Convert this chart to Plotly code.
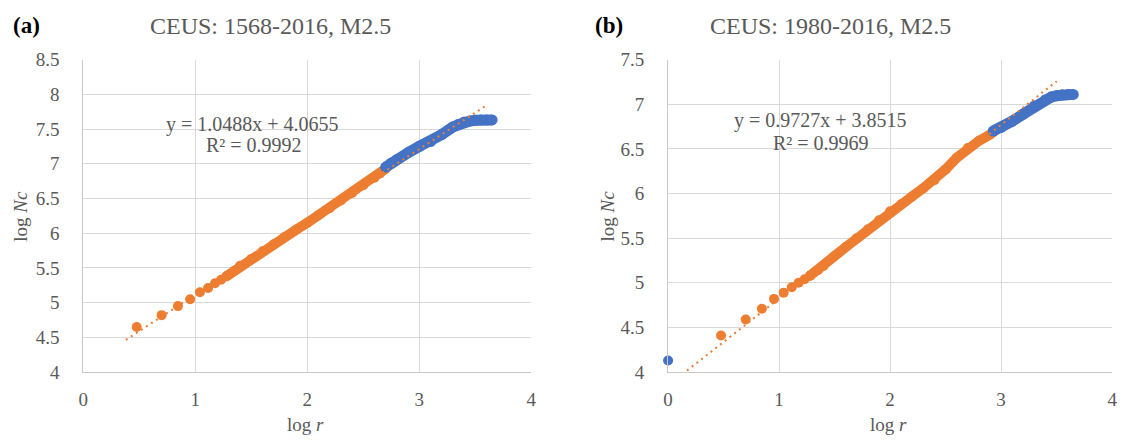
import plotly.graph_objects as go

# ---------------- panel (a): CEUS 1568-2016, M2.5 ----------------
a_dots_x = [0.477, 0.699, 0.845, 0.954, 1.041, 1.114, 1.176, 1.230, 1.279]
a_dots_y = [4.65, 4.82, 4.95, 5.05, 5.15, 5.21, 5.28, 5.33, 5.38]
a_orange_x = [1.279, 1.35, 1.40, 1.50, 1.60, 1.70, 1.80, 1.90, 2.00, 2.10, 2.20,
              2.30, 2.40, 2.50, 2.60, 2.65, 2.70]
a_orange_y = [5.38, 5.46, 5.53, 5.63, 5.74, 5.84, 5.95, 6.05, 6.15, 6.26, 6.36,
              6.47, 6.58, 6.69, 6.80, 6.86, 6.93]
a_blue_x = [2.70, 2.75, 2.80, 2.90, 3.00, 3.10, 3.20, 3.30, 3.35, 3.40, 3.45,
            3.50, 3.55, 3.60, 3.65]
a_blue_y = [6.95, 7.01, 7.06, 7.16, 7.25, 7.32, 7.42, 7.53, 7.57, 7.60, 7.615,
            7.625, 7.63, 7.63, 7.63]
a_fit = (1.0488, 4.0655)
a_fit_x = [0.38, 3.60]
a_eq = ["y = 1.0488x + 4.0655", "R² = 0.9992"]

# ---------------- panel (b): CEUS 1980-2016, M2.5 ----------------
b_first_x = [0.0]
b_first_y = [4.13]
b_dots_x = [0.477, 0.699, 0.845, 0.954, 1.041, 1.114, 1.176, 1.230, 1.279]
b_dots_y = [4.41, 4.59, 4.71, 4.82, 4.89, 4.95, 5.00, 5.04, 5.08]
b_orange_x = [1.279, 1.35, 1.40, 1.50, 1.60, 1.70, 1.80, 1.90, 2.00, 2.10, 2.20,
              2.30, 2.40, 2.50, 2.60, 2.70, 2.80, 2.90, 2.93]
b_orange_y = [5.08, 5.14, 5.19, 5.30, 5.40, 5.50, 5.60, 5.70, 5.80, 5.88, 5.97,
              6.06, 6.15, 6.27, 6.40, 6.51, 6.59, 6.66, 6.69]
b_blue_x = [2.93, 3.00, 3.10, 3.20, 3.30, 3.40, 3.45, 3.50, 3.55, 3.60, 3.65]
b_blue_y = [6.70, 6.74, 6.81, 6.89, 6.98, 7.05, 7.08, 7.095, 7.105, 7.11, 7.11]
b_fit = (0.9727, 3.8515)
b_fit_x = [0.0, 3.50]
b_eq = ["y = 0.9727x + 3.8515", "R² = 0.9969"]

x_ticks = [0, 1, 2, 3, 4]

ORANGE = "#ED7D31"
BLUE = "#4472C4"
GRID = "#D9D9D9"
TXT = "#595959"
FONT = "Liberation Serif"
MS = 10

W, H = 1132, 446
fig = go.Figure()


def add_panel(fig, xa, ya, first_x, first_y, dots_x, dots_y, ox, oy, bx, by, fit, fit_x):
    if first_x:
        fig.add_trace(go.Scatter(x=first_x, y=first_y, mode="markers", xaxis=xa, yaxis=ya,
                                 marker=dict(color=BLUE, size=MS), cliponaxis=False,
                                 showlegend=False))
    fig.add_trace(go.Scatter(x=dots_x, y=dots_y, mode="markers", xaxis=xa, yaxis=ya,
                             marker=dict(color=ORANGE, size=MS), cliponaxis=False,
                             showlegend=False))
    fig.add_trace(go.Scatter(x=ox, y=oy, mode="lines+markers", xaxis=xa, yaxis=ya,
                             line=dict(color=ORANGE, width=MS),
                             marker=dict(color=ORANGE, size=MS), cliponaxis=False,
                             showlegend=False))
    fig.add_trace(go.Scatter(x=bx, y=by, mode="lines+markers", xaxis=xa, yaxis=ya,
                             line=dict(color=BLUE, width=MS + 1),
                             marker=dict(color=BLUE, size=MS + 1), cliponaxis=False,
                             showlegend=False))
    m, c = fit
    fig.add_trace(go.Scatter(x=fit_x, y=[m * v + c for v in fit_x], mode="lines",
                             xaxis=xa, yaxis=ya,
                             line=dict(color=ORANGE, width=2, dash="2px,4px"),
                             showlegend=False))


add_panel(fig, "x", "y", [], [], a_dots_x, a_dots_y, a_orange_x, a_orange_y,
          a_blue_x, a_blue_y, a_fit, a_fit_x)
add_panel(fig, "x2", "y2", b_first_x, b_first_y, b_dots_x, b_dots_y, b_orange_x,
          b_orange_y, b_blue_x, b_blue_y, b_fit, b_fit_x)

# plot-area placement in pixels
a_left, a_right = 79, 531
b_left, b_right = 669, 1117
p_top, p_bottom = 52, 380


def px(v):
    return v / W


def py(v):
    return 1 - v / H


axis_common = dict(showgrid=True, gridcolor=GRID, gridwidth=1, zeroline=False,
                   showline=True, linecolor="#C8C8C8", linewidth=1,
                   ticks="", tickfont=dict(family=FONT, size=19, color=TXT),
                   mirror=False)

fig.update_layout(
    width=W, height=H,
    margin=dict(l=0, r=0, t=0, b=0),
    paper_bgcolor="white", plot_bgcolor="white",
    xaxis=dict(domain=[px(a_left), px(a_right)], anchor="y", range=[0, 4],
               tickvals=x_ticks, ticklabelstandoff=10, **axis_common),
    yaxis=dict(domain=[py(p_bottom), py(p_top)], anchor="x", range=[4, 8.5],
               dtick=0.5, tick0=4, ticklabelstandoff=19, **axis_common),
    xaxis2=dict(domain=[px(b_left), px(b_right)], anchor="y2", range=[0, 4],
                tickvals=x_ticks, ticklabelstandoff=10, **axis_common),
    yaxis2=dict(domain=[py(p_bottom), py(p_top)], anchor="x2", range=[4, 7.5],
                dtick=0.5, tick0=4, ticklabelstandoff=19, **axis_common),
)

ann = []


def text(x, y, s, size, color=TXT, angle=0, xanchor="center"):
    ann.append(dict(x=px(x), y=py(y), xref="paper", yref="paper", text=s,
                    showarrow=False, textangle=angle, xanchor=xanchor, yanchor="middle",
                    font=dict(family=FONT, size=size, color=color)))


# panel labels and titles
text(22, 16, "<b>(a)</b>", 23, color="black")
text(268, 17, "CEUS: 1568-2016, M2.5", 24)
text(609, 16, "<b>(b)</b>", 23, color="black")
text(833, 17, "CEUS: 1980-2016, M2.5", 24)

# axis titles
text(16, 216, "log <i>Nc</i>", 19, angle=-90)
text(303, 435, "log <i>r</i>", 19)
text(608, 216, "log <i>Nc</i>", 19, angle=-90)
text(891, 435, "log <i>r</i>", 19)

# trendline equations
text(250, 120, a_eq[0], 20)
text(251, 142, a_eq[1], 20)
text(823, 116, b_eq[0], 20)
text(823, 140, b_eq[1], 20)

fig.update_layout(annotations=ann)
fig.write_html("out.html")
